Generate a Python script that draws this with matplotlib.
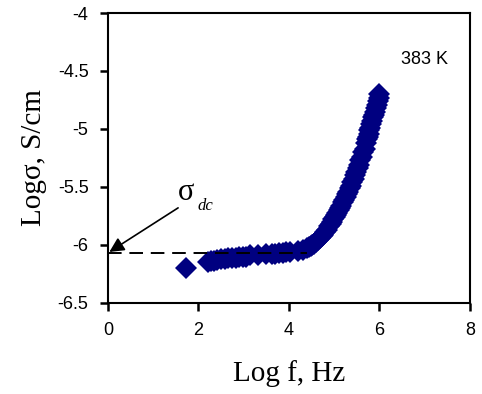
import matplotlib
matplotlib.use('Agg')
import matplotlib.pyplot as plt

# Log f (Hz) and Log sigma (S/cm)
log_f = [1.72, 2.22, 2.28, 2.34, 2.42, 2.50, 2.58, 2.66, 2.74, 2.82, 2.90,
         2.98, 3.06, 3.14, 3.32, 3.50, 3.62, 3.70, 3.78, 3.86, 3.94, 4.02,
         4.20, 4.32, 4.40,
         4.45, 4.48, 4.52, 4.56, 4.60, 4.64, 4.68, 4.72, 4.76, 4.80, 4.84,
         4.88, 4.92, 4.95, 4.98, 5.01, 5.04, 5.07, 5.10, 5.13, 5.16, 5.19,
         5.22, 5.25, 5.28, 5.31, 5.34, 5.37, 5.40, 5.43, 5.46, 5.49, 5.52,
         5.55, 5.58, 5.61, 5.64, 5.67, 5.70, 5.72, 5.74, 5.76, 5.78, 5.80,
         5.82, 5.84, 5.86, 5.88, 5.90, 5.92, 5.94, 5.96, 5.98, 6.00]
log_sigma = [-6.20, -6.15, -6.14, -6.14, -6.13, -6.12, -6.12, -6.11, -6.11,
             -6.11, -6.10, -6.10, -6.10, -6.09, -6.09, -6.08, -6.08, -6.08,
             -6.07, -6.07, -6.06, -6.06, -6.05, -6.04, -6.03,
             -6.02, -6.01, -6.00, -5.99, -5.97, -5.96, -5.94, -5.92, -5.91,
             -5.89, -5.87, -5.84, -5.82, -5.80, -5.78, -5.76, -5.74, -5.72,
             -5.70, -5.68, -5.66, -5.63, -5.61, -5.59, -5.56, -5.54, -5.51,
             -5.49, -5.46, -5.43, -5.40, -5.37, -5.34, -5.31, -5.27, -5.24,
             -5.20, -5.17, -5.12, -5.09, -5.07, -5.04, -5.01, -4.99, -4.96,
             -4.93, -4.90, -4.88, -4.85, -4.82, -4.79, -4.76, -4.73, -4.70]

sigma_dc = -6.07
dc_line_x = [0, 4.4]
x_ticks = [0, 2, 4, 6, 8]
y_ticks = [-6.5, -6, -5.5, -5, -4.5, -4]

fig = plt.figure(figsize=(4.82, 3.94), dpi=100)
ax = fig.add_axes([0.224, 0.231, 0.751, 0.736])

ax.plot(dc_line_x, [sigma_dc, sigma_dc], color='black', lw=1.4,
        dashes=(7, 4), zorder=3)
ax.plot(log_f, log_sigma, 'D', color='#000080', markersize=11,
        markeredgewidth=0, zorder=2)

ax.annotate('', xy=(0.03, sigma_dc + 0.01), xytext=(1.55, -5.68),
            arrowprops=dict(arrowstyle='-|>', color='black', lw=1.2,
                            mutation_scale=22, shrinkA=0, shrinkB=0))
ax.text(1.72, -5.55, 'σ', family='Liberation Serif', fontsize=22,
        ha='center', va='center')
ax.text(1.98, -5.66, 'dc', family='Liberation Serif', style='italic',
        fontsize=12, ha='left', va='center')
ax.text(7.0, -4.40, '383 K', family='Liberation Sans', fontsize=13,
        ha='center', va='center')

ax.set_xlim(0, 8)
ax.set_ylim(-6.5, -4)
ax.set_xticks(x_ticks)
ax.set_yticks(y_ticks)
ax.set_xticklabels([str(t) for t in x_ticks], family='Liberation Sans',
                   fontsize=13)
ax.set_yticklabels(['%g' % t for t in y_ticks], family='Liberation Sans',
                   fontsize=13)
ax.tick_params(direction='out', length=6, width=1.8, pad=8)
for sp in ax.spines.values():
    sp.set_linewidth(1.5)

ax.set_xlabel('Log f, Hz', family='Liberation Serif', fontsize=21,
              labelpad=15)
ax.set_ylabel('Logσ, S/cm', family='Liberation Serif', fontsize=21,
              labelpad=8)

fig.savefig('out.png', dpi=100)
